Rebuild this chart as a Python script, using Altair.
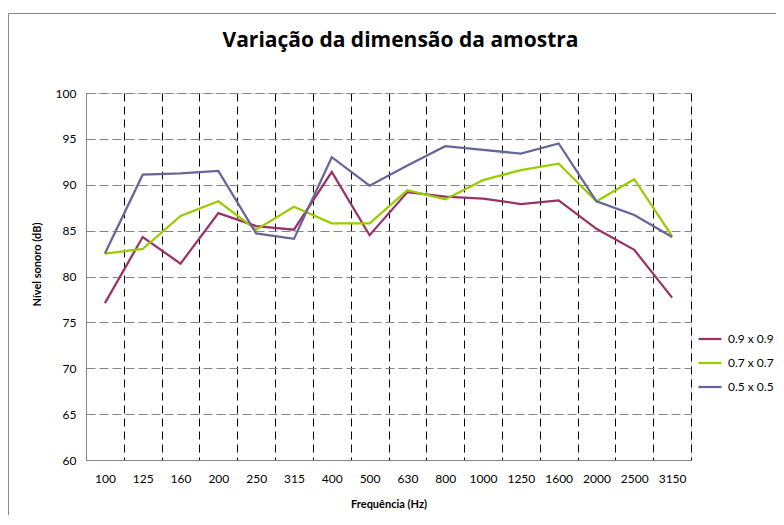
import altair as alt
import pandas as pd

freqs = ["100", "125", "160", "200", "250", "315", "400", "500", "630",
         "800", "1000", "1250", "1600", "2000", "2500", "3150"]
series_names = ["0.9 x 0.9", "0.7 x 0.7", "0.5 x 0.5"]
s09 = [77.1, 84.3, 81.4, 86.9, 85.5, 85.1, 91.4, 84.5, 89.2, 88.7, 88.5, 87.9, 88.3, 85.2, 82.9, 77.7]
s07 = [82.5, 83.0, 86.6, 88.2, 85.1, 87.6, 85.8, 85.8, 89.4, 88.4, 90.5, 91.6, 92.3, 88.2, 90.6, 84.4]
s05 = [82.5, 91.1, 91.25, 91.5, 84.7, 84.1, 93.0, 89.9, 92.1, 94.2, 93.8, 93.4, 94.5, 88.2, 86.7, 84.3]
colors = ["#993366", "#99CC00", "#666699"]

rows = []
for name, vals in zip(series_names, [s09, s07, s05]):
    for i, (f, v) in enumerate(zip(freqs, vals)):
        rows.append({"freq": f, "idx": i, "serie": name, "nivel": v})
df = pd.DataFrame(rows)

FONT = "Lato"

lines = alt.Chart(df).mark_line(strokeWidth=2.25).encode(
    x=alt.X(
        "freq:N",
        sort=freqs,
        scale=alt.Scale(type="band", paddingInner=0, paddingOuter=0),
        bandPosition=0.5,
        axis=alt.Axis(
            title="Frequência (Hz)",
            tickBand="extent",
            ticks=False,
            labelAngle=0,
            labelPadding=13,
            labelFont=FONT,
            labelFontSize=12,
            labelColor="#000000",
            titleFont=FONT,
            titleFontSize=11,
            titleFontWeight="bold",
            titleColor="#000000",
            titlePadding=14,
            domainColor="#868686",
            domainWidth=1,
            grid=True,
            gridColor="#000000",
            gridDash=[8, 5],
            gridWidth=1,
            gridOpacity=1,
        ),
    ),
    y=alt.Y(
        "nivel:Q",
        scale=alt.Scale(domain=[60, 100], nice=False, zero=False),
        axis=alt.Axis(
            title="Nível sonoro (dB)",
            values=[60, 65, 70, 75, 80, 85, 90, 95, 100],
            ticks=False,
            labelPadding=10,
            labelFont=FONT,
            labelFontSize=12,
            labelColor="#000000",
            titleFont=FONT,
            titleFontSize=11,
            titleFontWeight="bold",
            titleColor="#000000",
            titlePadding=13,
            titleY=171,
            domainColor="#868686",
            domainWidth=1,
            grid=True,
            gridColor="#868686",
            gridDash=[9, 4],
            gridWidth=1,
            gridOpacity=1,
        ),
    ),
    color=alt.Color(
        "serie:N",
        scale=alt.Scale(domain=series_names, range=colors),
        legend=alt.Legend(
            title=None,
            orient="none",
            legendX=611,
            legendY=233,
            symbolType="stroke",
            symbolSize=529,
            symbolStrokeWidth=2.25,
            labelFont=FONT,
            labelFontSize=12,
            labelColor="#000000",
            labelOffset=5,
            rowPadding=5,
            padding=0,
        ),
    ),
    order=alt.Order("idx:Q"),
)

frame = alt.Chart(alt.Data(values=[{}])).mark_rect(
    fill=None, stroke="#888888", strokeWidth=1
).encode(
    x=alt.value(-77.5), y=alt.value(-79.5), x2=alt.value(760), y2=alt.value(480)
)

chart = alt.layer(lines, frame).properties(
    width=605,
    height=367,
    autosize=alt.AutoSizeParams(type="none"),
    padding={"left": 78, "top": 85, "right": 85, "bottom": 55},
    title=alt.TitleParams(
        "Variação da dimensão da amostra",
        font="Open Sans",
        fontSize=21,
        fontWeight="bold",
        color="#000000",
        anchor="middle",
        frame="group",
        offset=-38,
        dx=12,
    ),
).configure_view(stroke=None).configure(background="white")

chart.save("out.html", embed_options={"renderer": "svg", "actions": False})
